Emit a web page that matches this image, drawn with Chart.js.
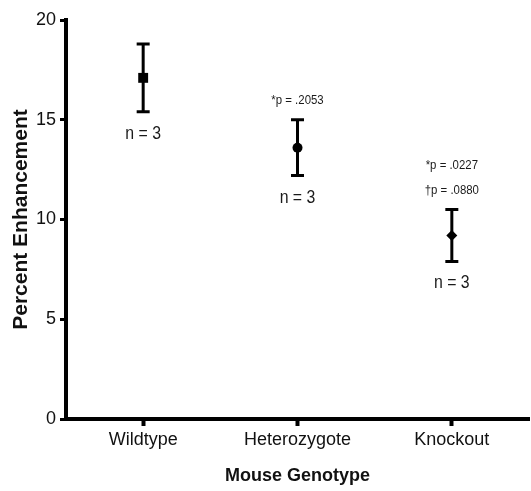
<!DOCTYPE html>
<html>
<head>
<meta charset="utf-8">
<script src="https://cdn.jsdelivr.net/npm/chart.js@4"></script>
<style>
  html, body { margin: 0; padding: 0; background: #fff; overflow: hidden; }
  /* a few px wider than the window so the x axis runs to the edge */
  #wrap { width: 536px; height: 491px; }
</style>
</head>
<body>
<div id="wrap"><canvas id="genotypeChart"></canvas></div>
<script>
// data
const genotypes = ['Wildtype', 'Heterozygote', 'Knockout'];
const meanValues = [17.1, 13.6, 9.2];
const errorValues = [1.7, 1.4, 1.3];
const nLabels = ['n = 3', 'n = 3', 'n = 3'];
const pLabels = [[], ['*p = .2053'], ['*p = .0227', '\u2020p = .0880']];
const markerStyles = ['rect', 'circle', 'rectRot'];
const markerSizes = [7, 5, 5.5];
const yTicks = [0, 5, 10, 15, 20];

const fontFamily = '"Liberation Sans", Arial, sans-serif';

// condensed text helper (the original uses a narrow face)
function narrowText(ctx, text, x, y, squeeze) {
  ctx.save();
  ctx.translate(x, y);
  ctx.scale(squeeze, 1);
  ctx.fillText(text, 0, 0);
  ctx.restore();
}

// Draws error bars plus n / p annotations at data positions
const errorBarPlugin = {
  id: 'errorBars',
  afterDatasetsDraw(chart) {
    const ctx = chart.ctx;
    const xScale = chart.scales.x;
    const yScale = chart.scales.y;
    ctx.save();
    ctx.strokeStyle = '#000';
    ctx.fillStyle = '#1a1a1a';
    meanValues.forEach(function(mean, i) {
      const x = xScale.getPixelForValue(i);
      const yTop = yScale.getPixelForValue(mean + errorValues[i]);
      const yBot = yScale.getPixelForValue(mean - errorValues[i]);
      ctx.lineWidth = 3;
      ctx.beginPath();
      ctx.moveTo(x, yTop);
      ctx.lineTo(x, yBot);
      ctx.moveTo(x - 6.5, yTop);
      ctx.lineTo(x + 6.5, yTop);
      ctx.moveTo(x - 6.5, yBot);
      ctx.lineTo(x + 6.5, yBot);
      ctx.stroke();

      ctx.textAlign = 'center';
      ctx.textBaseline = 'middle';
      ctx.font = '18px ' + fontFamily;
      narrowText(ctx, nLabels[i], x, yBot + 22, 0.88);

      ctx.font = '12px ' + fontFamily;
      const ps = pLabels[i];
      ps.forEach(function(label, j) {
        narrowText(ctx, label, x, yTop - 19 - (ps.length - 1 - j) * 25, 0.95);
      });
    });
    ctx.restore();
  }
};

new Chart(document.getElementById('genotypeChart'), {
  type: 'line',
  data: {
    labels: genotypes,
    datasets: [{
      data: meanValues,
      showLine: false,
      pointStyle: markerStyles,
      pointRadius: markerSizes,
      pointBackgroundColor: '#000',
      pointBorderColor: '#000',
      pointBorderWidth: 0
    }]
  },
  options: {
    responsive: true,
    maintainAspectRatio: false,
    animation: false,
    layout: { padding: { top: 20, right: 0, left: 0, bottom: 0 } },
    plugins: {
      legend: { display: false },
      tooltip: { enabled: false }
    },
    scales: {
      x: {
        type: 'category',
        offset: true,
        afterFit: function(scale) {
          scale.height = 72;
          scale.paddingLeft = 0;
          scale.paddingRight = 0;
        },
        border: { display: true, color: '#000', width: 4 },
        grid: {
          display: true,
          drawOnChartArea: false,
          drawTicks: true,
          tickLength: 7,
          tickColor: '#000',
          tickWidth: 4,
          offset: false
        },
        ticks: {
          color: '#111',
          padding: 3,
          font: { family: fontFamily, size: 18 }
        },
        title: {
          display: true,
          text: 'Mouse Genotype',
          color: '#111',
          font: { family: fontFamily, size: 18, weight: 'bold' },
          padding: { top: 0, bottom: 4 }
        }
      },
      y: {
        min: 0,
        max: 20,
        afterFit: function(scale) { scale.width = 66; },
        afterBuildTicks: function(scale) {
          scale.ticks = yTicks.map(function(v) { return { value: v }; });
        },
        border: { display: true, color: '#000', width: 4 },
        grid: {
          display: true,
          drawOnChartArea: false,
          drawTicks: true,
          tickLength: 6,
          tickColor: '#000',
          tickWidth: 3
        },
        ticks: {
          color: '#111',
          padding: 4,
          font: { family: fontFamily, size: 18 }
        },
        title: {
          display: true,
          text: 'Percent Enhancement',
          color: '#111',
          font: { family: fontFamily, size: 21, weight: 'bold' },
          padding: { top: 9, bottom: 0 }
        }
      }
    }
  },
  plugins: [errorBarPlugin]
});
</script>
</body>
</html>
